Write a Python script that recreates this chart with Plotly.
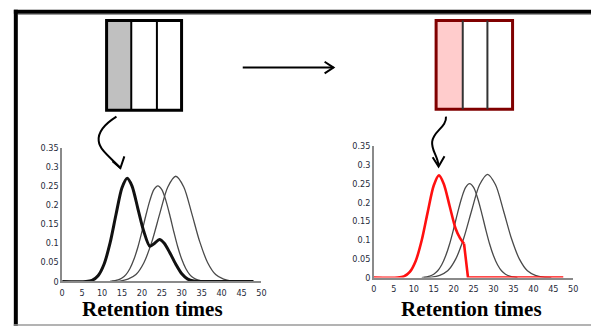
import plotly.graph_objects as go

# ---- chromatogram data (retention time, signal) ----
# broad unresolved trace from the first column
mix_t = [0, 6, 7.5, 9, 10.5, 12, 13.5, 15, 16.3, 17.5, 19, 20.5, 22, 23.2, 24.4, 25.6, 27, 28.5, 30, 31.5, 33, 34.5, 48]
mix_s = [0, 0, 0.003, 0.015, 0.045, 0.10, 0.175, 0.245, 0.27, 0.25, 0.19, 0.13, 0.092, 0.10, 0.11, 0.10, 0.075, 0.045, 0.02, 0.006, 0.001, 0, 0]

# component A
a_t = [12, 14, 15, 16, 17, 18, 19, 20, 21, 22, 23, 24, 25, 26, 27, 28, 29, 30, 31, 32, 33, 34, 36]
a_s = [0, 0.004, 0.009, 0.018, 0.034, 0.058, 0.09, 0.13, 0.173, 0.212, 0.24, 0.25, 0.24, 0.212, 0.173, 0.13, 0.09, 0.058, 0.034, 0.018, 0.009, 0.004, 0]

# component B
b_t = [12.5, 14.5, 16.5, 18.5, 20.5, 22.5, 24.5, 26.5, 28.5, 30.5, 32.5, 34.5, 36.5, 38.5, 40.5, 42.5, 44.5]
b_s = [0, 0.001, 0.006, 0.018, 0.049, 0.104, 0.178, 0.247, 0.275, 0.247, 0.178, 0.104, 0.049, 0.018, 0.006, 0.001, 0]

# isolated first fraction (cut off at the end of its window)
red_t = [0, 6, 7.5, 9, 10.5, 12, 13.5, 15, 16.3, 17.5, 19, 20.5, 21.6, 22.6]
red_s = [0, 0, 0.003, 0.015, 0.045, 0.10, 0.175, 0.245, 0.272, 0.25, 0.19, 0.13, 0.105, 0.09]
cut_t = [22.6, 23.6, 47.5]
cut_s = [0.09, 0, 0]

x_ticks = [0, 5, 10, 15, 20, 25, 30, 35, 40, 45, 50]
y_ticks = [0, 0.05, 0.1, 0.15, 0.2, 0.25, 0.3, 0.35]
y_labels = ["0", "0.05", "0.1", "0.15", "0.2", "0.25", "0.3", "0.35"]
axis_title = "Retention times"

W, H = 596, 333


def px(x):
    return x / W


def py(y):
    return 1 - y / H


def path(points):
    return "M " + " L ".join(f"{px(x):.5f},{py(y):.5f}" for x, y in points)


def curve(points):
    # cubic path through control points: start, (c1, c2, end)*
    s = f"M {px(points[0][0]):.5f},{py(points[0][1]):.5f}"
    rest = points[1:]
    for i in range(0, len(rest), 3):
        c = rest[i:i + 3]
        s += " C " + " ".join(f"{px(x):.5f},{py(y):.5f}" for x, y in c)
    return s


fig = go.Figure()

thin = dict(color="#4a4a4a", width=1.3, shape="spline", smoothing=0.8)

# left panel
fig.add_trace(go.Scatter(x=a_t, y=a_s, mode="lines", line=thin, xaxis="x", yaxis="y", cliponaxis=False))
fig.add_trace(go.Scatter(x=b_t, y=b_s, mode="lines", line=thin, xaxis="x", yaxis="y", cliponaxis=False))
fig.add_trace(go.Scatter(x=mix_t, y=mix_s, mode="lines", xaxis="x", yaxis="y", cliponaxis=False,
                         line=dict(color="#111111", width=3, shape="spline", smoothing=0.8)))

# right panel
fig.add_trace(go.Scatter(x=a_t, y=a_s, mode="lines", line=thin, xaxis="x2", yaxis="y2", cliponaxis=False))
fig.add_trace(go.Scatter(x=b_t, y=b_s, mode="lines", line=thin, xaxis="x2", yaxis="y2", cliponaxis=False))
fig.add_trace(go.Scatter(x=red_t, y=red_s, mode="lines", xaxis="x2", yaxis="y2", cliponaxis=False,
                         line=dict(color="#ff1010", width=2.6, shape="spline", smoothing=0.8)))
fig.add_trace(go.Scatter(x=cut_t, y=cut_s, mode="lines", xaxis="x2", yaxis="y2", cliponaxis=False,
                         line=dict(color="#ff1010", width=2.6)))

tick_font = dict(family="Liberation Sans Narrow, DejaVu Sans Condensed, Liberation Sans", size=9, color="#262a3a")

xa = dict(range=[0, 50], tickvals=x_ticks, showline=True, linecolor="#8a8a8a", linewidth=1.5,
          showgrid=False, zeroline=False, ticks="", tickfont=tick_font, ticklabelstandoff=2)
ya = dict(range=[0, 0.35], tickvals=y_ticks, ticktext=y_labels, showline=True, linecolor="#8a8a8a",
          linewidth=1.5, showgrid=False, zeroline=False, ticks="", tickfont=tick_font)

fig.update_layout(
    width=W, height=H, autosize=False,
    margin=dict(l=0, r=0, t=0, b=0),
    paper_bgcolor="white", plot_bgcolor="rgba(0,0,0,0)",
    showlegend=False,
    xaxis=dict(xa, domain=[px(60), px(262)], anchor="y"),
    yaxis=dict(ya, domain=[py(285), py(147)], anchor="x"),
    xaxis2=dict(xa, domain=[px(376), px(578)], anchor="y2"),
    yaxis2=dict(ya, domain=[py(281), py(145.5)], anchor="x2"),
)

title_font = dict(family="Liberation Serif, Times New Roman, serif", size=21, color="#000000")
for cx in (152, 475):
    fig.add_annotation(x=px(cx), y=py(313), xref="paper", yref="paper", text=f"<b>{axis_title}</b>",
                       showarrow=False, font=title_font, xanchor="center", yanchor="middle")

shapes = []
# outer frame
shapes.append(dict(type="line", xref="paper", yref="paper", x0=px(11), x1=1, y0=py(7), y1=py(7),
                   line=dict(color="black", width=4)))
shapes.append(dict(type="line", xref="paper", yref="paper", x0=px(15), x1=1, y0=py(9.8), y1=py(9.8),
                   line=dict(color="#9a9a9a", width=1)))
shapes.append(dict(type="line", xref="paper", yref="paper", x0=px(13), x1=px(13), y0=py(5), y1=py(331),
                   line=dict(color="black", width=4)))
shapes.append(dict(type="line", xref="paper", yref="paper", x0=px(11), x1=1, y0=py(330), y1=py(330),
                   line=dict(color="#9a9a9a", width=1.5)))

# first column (grey band)
shapes.append(dict(type="rect", xref="paper", yref="paper", x0=px(105), x1=px(130), y0=py(16), y1=py(108.5),
                   fillcolor="#c0c0c0", line=dict(width=0)))
shapes.append(dict(type="rect", xref="paper", yref="paper", x0=px(105), x1=px(181), y0=py(16), y1=py(108.5),
                   fillcolor="rgba(0,0,0,0)", line=dict(color="black", width=3)))
for x in (130, 156):
    shapes.append(dict(type="line", xref="paper", yref="paper", x0=px(x), x1=px(x), y0=py(16), y1=py(108.5),
                       line=dict(color="black", width=2)))

# second column (red band)
shapes.append(dict(type="rect", xref="paper", yref="paper", x0=px(439), x1=px(466), y0=py(16), y1=py(107.5),
                   fillcolor="#ffcccc", line=dict(width=0)))
shapes.append(dict(type="rect", xref="paper", yref="paper", x0=px(439), x1=px(516.5), y0=py(16), y1=py(107.5),
                   fillcolor="rgba(0,0,0,0)", line=dict(color="#800000", width=3)))
for x in (466, 491):
    shapes.append(dict(type="line", xref="paper", yref="paper", x0=px(x), x1=px(x), y0=py(16), y1=py(107.5),
                       line=dict(color="#333333", width=2)))

# horizontal arrow
arrow_line = dict(color="black", width=2)
shapes.append(dict(type="path", xref="paper", yref="paper", path=path([(243, 64.5), (335, 64.5)]), line=arrow_line))
shapes.append(dict(type="path", xref="paper", yref="paper",
                   path=path([(326, 58.5), (335, 64.5), (326, 70.5)]), line=arrow_line))

# curved pointer, left
shapes.append(dict(type="path", xref="paper", yref="paper", line=arrow_line,
                   path=curve([(115, 115), (104, 122), (96, 130), (97, 140),
                               (98, 150), (110, 158), (119, 168)])))
shapes.append(dict(type="path", xref="paper", yref="paper", line=arrow_line,
                   path=path([(123, 156), (119, 168), (111, 161)])))

# curved pointer, right
shapes.append(dict(type="path", xref="paper", yref="paper", line=arrow_line,
                   path=curve([(449, 115), (450, 126), (436, 130), (435, 141),
                               (434, 150), (441, 156), (441.5, 166)])))
shapes.append(dict(type="path", xref="paper", yref="paper", line=arrow_line,
                   path=path([(435.5, 157), (441.5, 166.5), (447.5, 156)])))

fig.update_layout(shapes=shapes)

fig.write_html("out.html")
